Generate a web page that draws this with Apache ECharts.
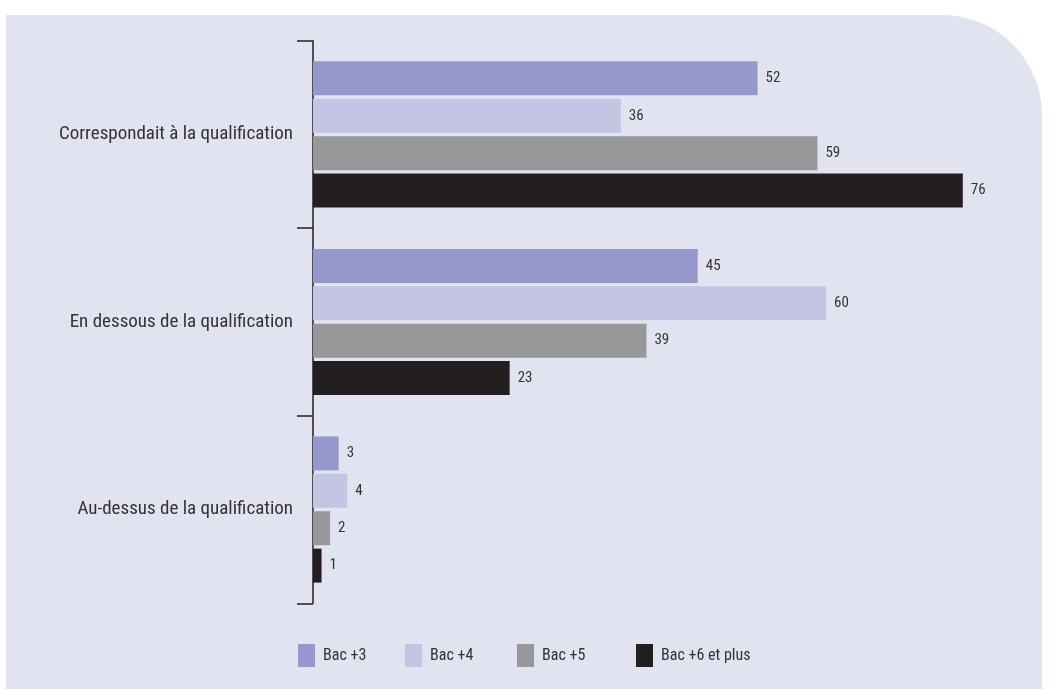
<!DOCTYPE html>
<html><head><meta charset="utf-8">
<script src="https://cdn.jsdelivr.net/npm/echarts@6/dist/echarts.min.js"></script>
</head><body style="margin:0;background:#fff">
<div id="chart" style="width:1057px;height:689px"></div>
<script>
var categories = ['Correspondait à la qualification', 'En dessous de la qualification', 'Au-dessus de la qualification'];
var seriesNames = ['Bac +3', 'Bac +4', 'Bac +5', 'Bac +6 et plus'];
var bac3 = [52, 45, 3];
var bac4 = [36, 60, 4];
var bac5 = [59, 39, 2];
var bac6 = [76, 23, 1];
var seriesData = [bac3, bac4, bac5, bac6];
var colors = ['#9598cc', '#c4c4e3', '#97989a', '#231f20'];
var legendLeft = [298, 405, 517, 636];

var FONT = '"Roboto Condensed", "Noto Sans", sans-serif';
var chart = echarts.init(document.getElementById('chart'), null, {renderer: 'canvas'});

var series = seriesNames.map(function (n, i) {
  return {
    name: n, type: 'bar', data: seriesData[i],
    barWidth: 34, barGap: '10%',
    itemStyle: {color: colors[i]},
    label: {show: true, position: 'right', distance: 8, color: '#333', fontSize: 15, fontFamily: FONT},
    emphasis: {disabled: true}, animation: false
  };
});

var legends = seriesNames.map(function (n, i) {
  return {
    data: [{name: n, icon: 'rect'}], left: legendLeft[i], top: 644, padding: 0,
    itemWidth: 17, itemHeight: 23, selectedMode: false,
    textStyle: {fontSize: 16, color: '#333', fontFamily: FONT, padding: [3, 0, 0, 3]}
  };
});

chart.setOption({
  animation: false,
  textStyle: {fontFamily: FONT},
  graphic: [{
    type: 'rect', z: -10, silent: true,
    shape: {x: 6, y: 15, width: 1036, height: 700, r: [0, 100, 0, 0]},
    style: {fill: '#e2e3f1'}
  }],
  legend: legends,
  grid: {left: 313, top: 40.7, width: 684, height: 562.6, containLabel: false},
  xAxis: {
    type: 'value', min: 0, max: 80, show: false
  },
  yAxis: {
    type: 'category', data: categories, inverse: true,
    axisLine: {show: true, lineStyle: {color: '#231f20', width: 1.5}},
    axisTick: {show: true, length: 16, lineStyle: {color: '#231f20', width: 1.5}},
    axisLabel: {fontSize: 19, color: '#333', margin: 20, fontFamily: FONT},
    splitLine: {show: false}
  },
  series: series
});
</script></body></html>
